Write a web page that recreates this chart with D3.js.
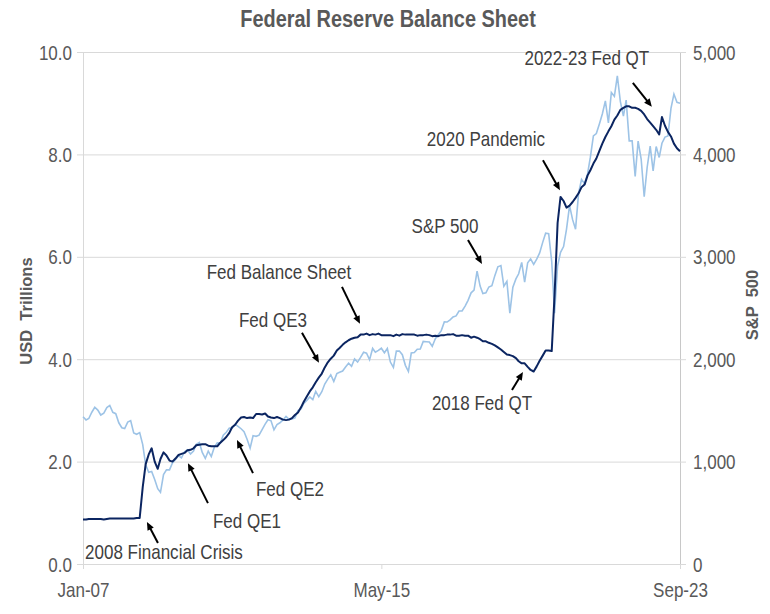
<!DOCTYPE html>
<html lang="en">
<head>
<meta charset="utf-8">
<title>Federal Reserve Balance Sheet</title>
<script src="https://cdn.jsdelivr.net/npm/d3@7/dist/d3.min.js"></script>
<style>
  body { margin: 0; background: #fff; }
  svg text { font-family: "Liberation Sans", Arial, sans-serif; }
  .grid { stroke: #d9d9d9; stroke-width: 1px; }
  .axis path, .axis line { stroke: #d9d9d9; }
  .axis text { fill: #595959; font-size: 20.5px; }
  .note { fill: #404040; font-size: 20.5px; }
  .title { fill: #595959; font-size: 24px; font-weight: bold; }
  .ytitle { fill: #595959; font-size: 16.5px; font-weight: bold; white-space: pre; }
</style>
</head>
<body>
<svg width="770" height="614"></svg>
<script>
// monthly values, Jan 2007 .. Sep 2023
var fedTrillions = [
  0.87, 0.87, 0.88, 0.88, 0.88, 0.88, 0.88, 0.87, 0.88, 0.89, 0.89, 0.89, // 2007
  0.89, 0.89, 0.89, 0.89, 0.89, 0.89, 0.90, 0.90, 1.50, 1.95, 2.14, 2.26, // 2008
  2.00, 1.86, 2.05, 2.18, 2.12, 2.02, 2.00, 2.06, 2.13, 2.15, 2.17, 2.22, // 2009
  2.23, 2.26, 2.32, 2.33, 2.34, 2.34, 2.31, 2.30, 2.30, 2.30, 2.37, 2.42, // 2010
  2.48, 2.56, 2.67, 2.72, 2.80, 2.86, 2.87, 2.85, 2.86, 2.85, 2.93, 2.93, // 2011
  2.92, 2.94, 2.88, 2.86, 2.85, 2.87, 2.85, 2.82, 2.81, 2.82, 2.85, 2.91, // 2012
  2.96, 3.06, 3.17, 3.27, 3.37, 3.45, 3.55, 3.64, 3.72, 3.84, 3.94, 4.01, // 2013
  4.07, 4.17, 4.22, 4.28, 4.33, 4.37, 4.40, 4.42, 4.43, 4.48, 4.48, 4.50, // 2014
  4.47, 4.49, 4.48, 4.50, 4.47, 4.47, 4.47, 4.47, 4.45, 4.48, 4.46, 4.49, // 2015
  4.48, 4.48, 4.48, 4.48, 4.46, 4.47, 4.47, 4.48, 4.47, 4.45, 4.46, 4.45, // 2016
  4.47, 4.47, 4.48, 4.48, 4.49, 4.46, 4.46, 4.47, 4.46, 4.46, 4.42, 4.44, // 2017
  4.42, 4.39, 4.35, 4.35, 4.32, 4.30, 4.27, 4.23, 4.19, 4.14, 4.09, 4.08, // 2018
  4.06, 4.02, 3.96, 3.92, 3.92, 3.85, 3.79, 3.76, 3.86, 3.97, 4.07, 4.17, // 2019
  4.17, 4.16, 5.25, 6.66, 7.17, 7.09, 6.96, 7.00, 7.07, 7.15, 7.24, 7.36, // 2020
  7.41, 7.59, 7.69, 7.82, 7.92, 8.07, 8.21, 8.34, 8.45, 8.55, 8.68, 8.76, // 2021
  8.87, 8.91, 8.94, 8.94, 8.91, 8.91, 8.89, 8.85, 8.78, 8.69, 8.62, 8.55, // 2022
  8.48, 8.39, 8.73, 8.56, 8.44, 8.35, 8.21, 8.12, 8.06                    // 2023
];

var sp500 = [
  1438, 1407, 1421, 1482, 1531, 1503, 1455, 1474, 1527, 1549, 1481, 1468, // 2007
  1379, 1331, 1323, 1386, 1400, 1280, 1267, 1283, 1166, 969, 896, 903,    // 2008
  826, 735, 700, 873, 919, 919, 987, 1021, 1057, 1036, 1096, 1115,        // 2009
  1074, 1104, 1169, 1187, 1089, 1031, 1102, 1049, 1141, 1183, 1181, 1258, // 2010
  1286, 1327, 1326, 1364, 1345, 1321, 1292, 1219, 1131, 1253, 1247, 1258, // 2011
  1312, 1366, 1408, 1398, 1310, 1362, 1379, 1407, 1441, 1412, 1416, 1426, // 2012
  1498, 1515, 1569, 1598, 1631, 1606, 1686, 1633, 1682, 1757, 1806, 1848, // 2013
  1783, 1859, 1872, 1884, 1924, 1960, 1931, 2003, 1972, 2018, 2068, 2059, // 2014
  1995, 2105, 2068, 2086, 2107, 2063, 2104, 1972, 1920, 2079, 2080, 2044, // 2015
  1940, 1880, 2060, 2065, 2097, 2099, 2174, 2171, 2168, 2126, 2199, 2239, // 2016
  2279, 2364, 2363, 2384, 2412, 2423, 2470, 2472, 2519, 2575, 2648, 2674, // 2017
  2860, 2714, 2641, 2648, 2705, 2718, 2816, 2902, 2914, 2712, 2760, 2450, // 2018
  2704, 2784, 2834, 2946, 2752, 2942, 2980, 2926, 2977, 3038, 3141, 3231, // 2019
  3226, 2954, 2450, 2912, 3044, 3100, 3271, 3500, 3363, 3270, 3622, 3756, // 2020
  3714, 3811, 3973, 4181, 4204, 4298, 4395, 4523, 4308, 4605, 4567, 4766, // 2021
  4516, 4374, 4530, 4132, 4132, 3785, 4130, 3955, 3586, 3872, 4080, 3840, // 2022
  4077, 3970, 4109, 4169, 4180, 4450, 4589, 4508, 4500                    // 2023
];

var leftTicks = [0, 2, 4, 6, 8, 10];
var rightTicks = [0, 1000, 2000, 3000, 4000, 5000];
var dateTicks = ["2007-01-01", "2015-05-01", "2023-09-01"];

// arrow tip for each note, in data units
var notes = [
  {label: "2008 Financial Crisis", date: "2008-10-14", value: 0.82, axis: "left"},
  {label: "Fed QE1", date: "2009-12-06", value: 1.97, axis: "left"},
  {label: "Fed QE2", date: "2011-04-20", value: 2.42, axis: "left"},
  {label: "Fed QE3", date: "2013-08-03", value: 3.93, axis: "left"},
  {label: "Fed Balance Sheet", date: "2014-09-25", value: 4.69, axis: "left"},
  {label: "S&P 500", date: "2018-02-20", value: 2930, axis: "right"},
  {label: "2018 Fed QT", date: "2019-04-14", value: 3.75, axis: "left"},
  {label: "2020 Pandemic", date: "2020-04-25", value: 7.30, axis: "left"},
  {label: "2022-23 Fed QT", date: "2022-11-18", value: 8.93, axis: "left"}
];

var svg = d3.select("svg");
var box = {l: 83, r: 680, t: 52, b: 564};
var squash = " scale(0.83,1)";

var parse = d3.timeParse("%Y-%m-%d");
var months = d3.timeMonth.range(new Date(2007, 0, 1), new Date(2023, 9, 1));

var x = d3.scaleTime().domain(d3.extent(months)).range([box.l, box.r]);
var yL = d3.scaleLinear().domain([0, 10]).range([box.b, box.t]);
var yR = d3.scaleLinear().domain([0, 5000]).range([box.b, box.t]);

// gridlines
svg.append("g").selectAll("line")
  .data(leftTicks)
  .enter().append("line")
  .attr("class", "grid")
  .attr("x1", box.l).attr("x2", box.r)
  .attr("y1", d => yL(d) + 0.5).attr("y2", d => yL(d) + 0.5);

var gL = svg.append("g").attr("class", "axis")
  .attr("transform", "translate(" + box.l + ",0)")
  .call(d3.axisLeft(yL).tickValues(leftTicks).tickFormat(d3.format(".1f")).tickSize(6).tickSizeOuter(0));
gL.selectAll("text").attr("x", 0).attr("dy", "0.35em").attr("transform", "translate(-11,0)" + squash);

var gR = svg.append("g").attr("class", "axis")
  .attr("transform", "translate(" + box.r + ",0)")
  .call(d3.axisRight(yR).tickValues(rightTicks).tickFormat(d3.format(",")).tickSize(6).tickSizeOuter(0));
gR.select(".domain").style("stroke", "#c8c8c8");
gR.selectAll("text").attr("x", 0).attr("dy", "0.35em").attr("transform", "translate(13,0)" + squash);

var gB = svg.append("g").attr("class", "axis")
  .attr("transform", "translate(0," + box.b + ")")
  .call(d3.axisBottom(x).tickValues(dateTicks.map(parse)).tickFormat(d3.timeFormat("%b-%y")).tickSize(5).tickSizeOuter(0));
gB.selectAll("text").attr("y", 0).attr("dy", 0).attr("transform", "translate(0,33)" + squash);

// series
svg.append("path")
  .datum(sp500)
  .attr("fill", "none")
  .attr("stroke", "#9dc3e6")
  .attr("stroke-width", 1.6)
  .attr("d", d3.line().x((d, i) => x(months[i])).y(d => yR(d)));

svg.append("path")
  .datum(fedTrillions)
  .attr("fill", "none")
  .attr("stroke", "#0b2561")
  .attr("stroke-width", 2)
  .attr("stroke-linejoin", "round")
  .attr("d", d3.line().x((d, i) => x(months[i])).y(d => yL(d)));

// titles
svg.append("text").attr("class", "title")
  .attr("text-anchor", "middle")
  .attr("transform", "translate(388,27)" + squash)
  .text("Federal Reserve Balance Sheet");

svg.append("text").attr("class", "ytitle")
  .attr("text-anchor", "middle")
  .attr("transform", "translate(32,311) rotate(-90)")
  .text("USD  Trillions");

svg.append("text").attr("class", "ytitle")
  .attr("text-anchor", "middle")
  .attr("transform", "translate(758,305) rotate(-90)")
  .text("S&P  500");

// annotations: arrow tail and label centre, offset from the tip in px
var place = {
  "2008 Financial Crisis": {tail: [11, 21], text: [17, 30]},
  "Fed QE1": {tail: [20, 40], text: [59, 58]},
  "Fed QE2": {tail: [16, 33], text: [53, 49]},
  "Fed QE3": {tail: [-17, -30], text: [-46, -43]},
  "Fed Balance Sheet": {tail: [-18, -37], text: [-81, -52]},
  "S&P 500": {tail: [-14, -24], text: [-37, -38]},
  "2018 Fed QT": {tail: [-11, 18], text: [-41, 31]},
  "2020 Pandemic": {tail: [-17, -30], text: [-74, -51]},
  "2022-23 Fed QT": {tail: [-19, -24], text: [-65, -49]}
};

notes.forEach(function (n) {
  var tx = x(parse(n.date));
  var ty = (n.axis == "right" ? yR : yL)(n.value);
  var p = place[n.label];
  var sx = tx + p.tail[0], sy = ty + p.tail[1];
  var len = Math.hypot(tx - sx, ty - sy);
  var ux = (tx - sx) / len, uy = (ty - sy) / len;
  var bx = tx - ux * 8, by = ty - uy * 8;

  svg.append("line")
    .attr("x1", sx).attr("y1", sy)
    .attr("x2", tx - ux * 5).attr("y2", ty - uy * 5)
    .attr("stroke", "#000").attr("stroke-width", 2);
  svg.append("path")
    .attr("d", "M" + tx + "," + ty +
      "L" + (bx - uy * 3.5) + "," + (by + ux * 3.5) +
      "L" + (bx + uy * 3.5) + "," + (by - ux * 3.5) + "Z")
    .attr("fill", "#000");

  svg.append("text").attr("class", "note")
    .attr("text-anchor", "middle")
    .attr("dy", "0.35em")
    .attr("transform", "translate(" + (tx + p.text[0]) + "," + (ty + p.text[1]) + ")" + squash)
    .text(n.label);
});
</script>
</body>
</html>
